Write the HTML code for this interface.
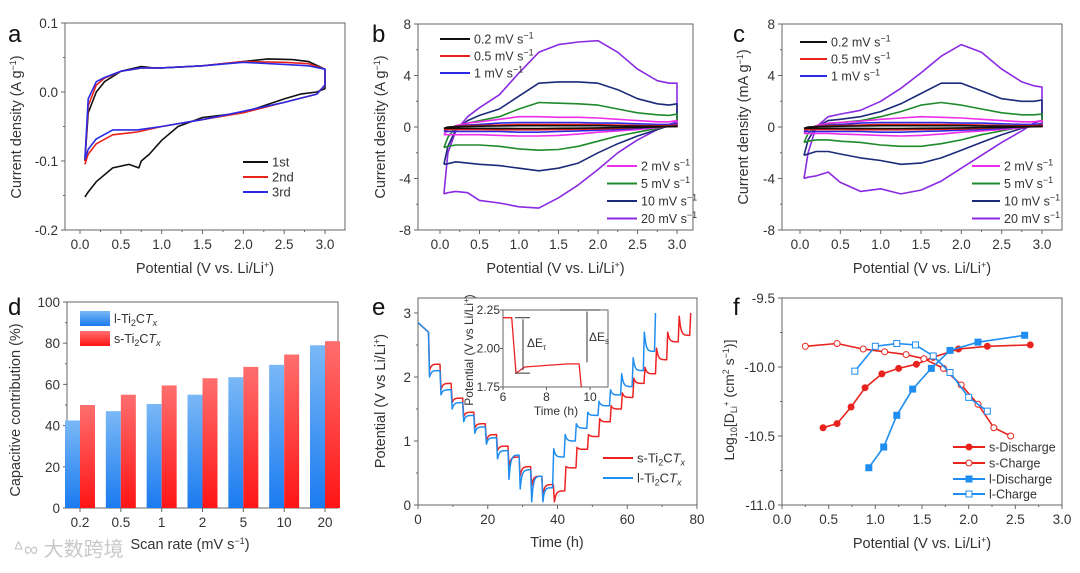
<!DOCTYPE html>
<html><head><meta charset="utf-8"><style>
html,body{margin:0;padding:0;background:#fff;}
svg{display:block;font-family:"Liberation Sans","Noto Sans CJK SC",sans-serif;}
</style></head><body>
<svg id="fig" width="1080" height="573" viewBox="0 0 1080 573" xmlns="http://www.w3.org/2000/svg">
<defs>
<linearGradient id="gBlue" x1="0" y1="0" x2="0" y2="1"><stop offset="0" stop-color="#7ab8f6"/><stop offset="1" stop-color="#1b7bf0"/></linearGradient>
<linearGradient id="gRed" x1="0" y1="0" x2="0" y2="1"><stop offset="0" stop-color="#ff6e6e"/><stop offset="1" stop-color="#ff1515"/></linearGradient>
</defs>
</svg>
<script>
// ---------- DATA ----------
// Panel a (A g^-1)
const aUpX1=[0.06,0.1,0.2,0.3,0.5,0.75,0.9,1.0,1.5,2.0,2.3,2.6,2.8,3.0];
const aUpY1=[-0.1,-0.03,0.0,0.015,0.03,0.037,0.035,0.035,0.038,0.044,0.048,0.047,0.044,0.033];
const aLoX1=[3.0,2.9,2.7,2.5,2.0,1.5,1.2,1.0,0.85,0.75,0.72,0.6,0.4,0.2,0.1,0.06];
const aLoY1=[0.005,0.0,-0.003,-0.01,-0.03,-0.037,-0.05,-0.07,-0.09,-0.1,-0.11,-0.105,-0.11,-0.13,-0.145,-0.152];
const aUpX2=[0.06,0.1,0.2,0.3,0.5,0.75,1.0,1.5,2.0,2.5,2.8,3.0];
const aUpY2=[-0.1,-0.02,0.01,0.02,0.03,0.035,0.035,0.038,0.044,0.043,0.041,0.033];
const aLoX2=[3.0,2.9,2.5,2.0,1.5,1.0,0.7,0.4,0.2,0.1,0.06];
const aLoY2=[0.01,-0.003,-0.015,-0.03,-0.04,-0.05,-0.058,-0.062,-0.075,-0.09,-0.105];
const aUpY3=[-0.098,-0.01,0.015,0.021,0.03,0.035,0.035,0.038,0.043,0.04,0.038,0.033];
const aLoY3=[0.01,-0.003,-0.015,-0.028,-0.04,-0.05,-0.055,-0.055,-0.068,-0.083,-0.098];

// Panels b, c shared potential grid
const cvX=[0.05,0.1,0.2,0.35,0.5,0.75,1.0,1.25,1.5,1.75,2.0,2.25,2.5,2.75,2.9,3.0];
const bUp20=[-5.2,-2,-0.3,0.8,1.5,2.5,4.2,5.8,6.4,6.6,6.7,5.8,4.5,3.6,3.4,3.4];
const bLo20=[-5.2,-5.1,-5.0,-5.1,-5.7,-5.9,-6.2,-6.3,-5.5,-4.5,-3.3,-2.0,-1.0,-0.2,0.2,0.4];
const bUp10=[-2.9,-1.5,-0.2,0.5,0.9,1.4,2.4,3.4,3.5,3.5,3.4,2.9,2.2,1.8,1.7,1.8];
const bLo10=[-2.9,-2.85,-2.7,-2.8,-2.9,-3.0,-3.2,-3.4,-3.2,-2.8,-2.0,-1.3,-0.7,-0.2,0.1,0.3];
const bUp5=[-1.6,-0.8,0,0.3,0.5,0.8,1.4,1.9,1.85,1.8,1.7,1.4,1.1,0.95,0.9,1.0];
const bLo5=[-1.6,-1.5,-1.4,-1.4,-1.4,-1.5,-1.7,-1.8,-1.75,-1.5,-1.1,-0.7,-0.4,-0.1,0.1,0.3];
const bUp2=[-0.6,-0.2,0.1,0.3,0.4,0.6,0.8,0.8,0.75,0.75,0.7,0.6,0.5,0.4,0.4,0.5];
const bLo2=[-0.6,-0.6,-0.6,-0.6,-0.6,-0.65,-0.7,-0.7,-0.65,-0.55,-0.4,-0.3,-0.2,-0.05,0.05,0.1];
const bUp1=[-0.35,-0.1,0.05,0.15,0.2,0.3,0.35,0.35,0.35,0.35,0.3,0.3,0.25,0.2,0.2,0.25];
const bLo1=[-0.35,-0.35,-0.35,-0.35,-0.35,-0.35,-0.4,-0.4,-0.35,-0.3,-0.25,-0.2,-0.1,0,0.05,0.1];
const bUp05=[-0.2,-0.05,0.05,0.1,0.12,0.15,0.2,0.2,0.2,0.2,0.18,0.15,0.12,0.1,0.1,0.15];
const bLo05=[-0.2,-0.2,-0.2,-0.2,-0.2,-0.22,-0.22,-0.22,-0.2,-0.18,-0.15,-0.1,-0.05,0,0.03,0.05];
const bUp02=[-0.1,0,0.03,0.05,0.06,0.08,0.1,0.1,0.1,0.1,0.1,0.08,0.06,0.05,0.05,0.08];
const bLo02=[-0.1,-0.1,-0.1,-0.1,-0.1,-0.11,-0.12,-0.12,-0.1,-0.09,-0.07,-0.05,-0.03,0,0.02,0.03];

const cUp20=[-4.0,-2,0,0.8,1.0,1.3,2.0,3.0,4.2,5.5,6.4,5.8,4.5,3.5,3.2,3.1];
const cLo20=[-4.0,-3.9,-3.8,-3.5,-4.3,-5.0,-4.8,-5.2,-4.9,-4.2,-3.2,-2.2,-1.2,-0.3,0.3,0.5];
const cUp10=[-2.2,-1,0,0.5,0.6,0.8,1.2,1.8,2.6,3.4,3.4,2.8,2.2,2.0,2.0,2.1];
const cLo10=[-2.2,-2.1,-1.9,-1.9,-2.1,-2.4,-2.6,-2.9,-2.8,-2.4,-1.8,-1.2,-0.6,-0.1,0.1,0.3];
const cUp5=[-1.2,-0.5,0,0.25,0.35,0.5,0.8,1.2,1.7,1.9,1.7,1.4,1.1,0.95,0.95,1.0];
const cLo5=[-1.2,-1.1,-1.0,-1.0,-1.1,-1.2,-1.4,-1.5,-1.5,-1.3,-1.0,-0.6,-0.3,0,0.15,0.3];
const cUp2=[-0.5,-0.2,0.1,0.3,0.35,0.45,0.6,0.7,0.8,0.75,0.7,0.6,0.5,0.4,0.4,0.5];
const cLo2=[-0.5,-0.5,-0.5,-0.5,-0.55,-0.6,-0.65,-0.7,-0.65,-0.55,-0.4,-0.3,-0.2,-0.05,0.05,0.1];

// Panel d
const dCats=["0.2","0.5","1","2","5","10","20"];
const dL=[42.5,47,50.5,55,63.5,69.5,79];
const dS=[50,55,59.5,63,68.5,74.5,81];

// Panel e (GITT): step start times, extreme (pulse end) and relaxed levels
const eStart=2.85, eT0=3.0, eL0=2.7;
const eDisT=[3.0,6.3,9.5,12.8,16.0,19.3,22.5,25.8,29.0,32.3,35.5];
const eSdisMin=[2.1,1.8,1.6,1.38,1.2,1.0,0.85,0.6,0.45,0.3,0.15];
const eSdisLvl=[2.2,1.9,1.67,1.45,1.27,1.1,0.92,0.75,0.6,0.45,0.32];
const eSchT=[38.8,42.1,45.3,48.6,51.8,55.1,58.3,61.6,64.8,68.1,71.3,74.6,77.9];
const eSchPk=[0.05,0.6,0.9,1.1,1.35,1.55,1.75,1.98,2.15,2.45,2.7,2.95,3.0];
const eSchLvl=[0.22,0.58,0.87,1.07,1.3,1.5,1.68,1.9,2.05,2.27,2.55,2.65,3.0];
const eLdisMin=[2.0,1.72,1.5,1.3,1.12,0.95,0.72,0.4,0.25,0.05,0.05];
const eLdisLvl=[2.1,1.8,1.6,1.4,1.22,1.05,0.85,0.78,0.55,0.45,0.27];
const eLchT=[38.6,41.9,45.1,48.4,51.6,54.9,58.1,61.4,64.6,67.8];
const eLchPk=[0.88,1.1,1.27,1.45,1.62,1.8,2.05,2.3,2.7,3.0];
const eLchLvl=[0.75,1.0,1.2,1.4,1.55,1.72,1.85,2.1,2.4,3.0];
// inset
const insX=[6.0,6.4,6.6,7.0,8.0,9.0,9.5,9.6];
const insY=[2.2,2.2,1.84,1.88,1.89,1.9,1.9,1.75];

// Panel f
const fSdX=[0.44,0.59,0.74,0.89,1.07,1.25,1.44,1.62,1.89,2.2,2.66];
const fSdY=[-10.44,-10.41,-10.29,-10.15,-10.05,-10.01,-9.98,-9.93,-9.87,-9.85,-9.84];
const fScX=[0.25,0.59,0.87,1.1,1.33,1.52,1.73,1.92,2.1,2.27,2.45];
const fScY=[-9.85,-9.83,-9.87,-9.89,-9.91,-9.94,-10.01,-10.13,-10.27,-10.44,-10.5];
const fLdX=[0.93,1.09,1.23,1.4,1.6,1.8,2.1,2.6];
const fLdY=[-10.73,-10.58,-10.35,-10.16,-10.01,-9.88,-9.82,-9.77];
const fLcX=[0.78,1.0,1.23,1.43,1.62,1.8,2.0,2.2];
const fLcY=[-10.03,-9.85,-9.83,-9.84,-9.92,-10.04,-10.22,-10.32];

// ---------- HELPERS ----------
const NS="http://www.w3.org/2000/svg";
const svg=document.getElementById('fig');
function mk(tag,attrs,name,parent){
  const el=document.createElementNS(NS,tag);
  for(const k in attrs) el.setAttribute(k,attrs[k]);
  
  
  (parent||svg).appendChild(el);
  return el;
}
function txt(x,y,html,name,opt){
  opt=opt||{};
  const t=mk('text',{x:x,y:y,'font-size':opt.fs||13,'text-anchor':opt.anchor||'middle',fill:opt.fill||'#333'},name);
  if(opt.rot) t.setAttribute('transform','rotate(-90 '+x+' '+y+')');
  if(opt.weight) t.setAttribute('font-weight',opt.weight);
  t.innerHTML=html;
  return t;
}
function scale(d0,d1,p0,p1){return v=>p0+(v-d0)*(p1-p0)/(d1-d0);}
function axes(cfg){
  const g=mk('g',{},cfg.name);
  mk('rect',{x:cfg.L,y:cfg.T,width:cfg.R-cfg.L,height:cfg.B-cfg.T,fill:'none',stroke:'#666','stroke-width':1},cfg.name+'-frame',g);
  cfg.xt.forEach((v,i)=>{
    const px=cfg.x(v);
    mk('line',{x1:px,y1:cfg.B,x2:px,y2:cfg.B+4,stroke:'#666'},'x-tick',g);
    txt(px,cfg.B+19,cfg.xl[i],'x-tick-label',{fs:13.5});
  });
  (cfg.xm||[]).forEach(v=>{const px=cfg.x(v);mk('line',{x1:px,y1:cfg.B,x2:px,y2:cfg.B+2,stroke:'#666'},'x-minor-tick',g);});
  cfg.yt.forEach((v,i)=>{
    const py=cfg.y(v);
    mk('line',{x1:cfg.L-4,y1:py,x2:cfg.L,y2:py,stroke:'#666'},'y-tick',g);
    txt(cfg.L-7,py+5,cfg.yl[i],'y-tick-label',{fs:13.5,anchor:'end'});
  });
  (cfg.ym||[]).forEach(v=>{const py=cfg.y(v);mk('line',{x1:cfg.L-2,y1:py,x2:cfg.L,y2:py,stroke:'#666'},'y-minor-tick',g);});
}
function poly(xs,ys,X,Y,color,name,w){
  const pts=xs.map((v,i)=>X(v).toFixed(1)+','+Y(ys[i]).toFixed(1)).join(' ');
  return mk('polyline',{points:pts,fill:'none',stroke:color,'stroke-width':w||1.6,'stroke-linejoin':'round'},name);
}
function loop(up,lo,X,Y,color,name,w){
  const xs=cvX.concat(cvX.slice().reverse());
  const ys=up.concat(lo.slice().reverse());
  return poly(xs.concat([cvX[0]]),ys.concat([up[0]]),X,Y,color,name,w);
}
function legLine(x1,x2,y,color,label,name,fs){
  mk('line',{x1:x1,y1:y,x2:x2,y2:y,stroke:color,'stroke-width':2},name+'-swatch');
  txt(x2+4,y+4.5,label,name,{anchor:'start',fs:fs||12.5});
}
const SUP1='<tspan dy="-5" font-size="9">−1</tspan>';
const LI='Potential (V vs. Li/Li<tspan dy="-5" font-size="9">+</tspan><tspan dy="5">)</tspan>';

// ---------- PANEL A ----------
(function(){
  const X=scale(0,3,80,325), Y=scale(-0.2,0.1,230,23);
  axes({name:'panel-a-axes',L:65,R:345,T:23,B:230,x:X,y:Y,xt:[0,0.5,1,1.5,2,2.5,3],xl:['0.0','0.5','1.0','1.5','2.0','2.5','3.0'],xm:[0.25,0.75,1.25,1.75,2.25,2.75],yt:[0.1,0,-0.1,-0.2],yl:['0.1','0.0','-0.1','-0.2'],ym:[0.05,-0.05,-0.15]});
  poly(aUpX1.concat(aLoX1),aUpY1.concat(aLoY1),X,Y,'#111','cv-1st');
  poly(aUpX2.concat(aLoX2),aUpY2.concat(aLoY2),X,Y,'#e8231d','cv-2nd');
  poly(aUpX2.concat(aLoX2),aUpY3.concat(aLoY3),X,Y,'#2a2ae6','cv-3rd');
  txt(8,42,'a','panel-label-a',{fs:24,anchor:'start',fill:'#111'});
  txt(21,127,'Current density (A g'+SUP1+'<tspan dy="5">)</tspan>','y-axis-title-a',{rot:true,fs:14.5});
  txt(205,273,LI,'x-axis-title-a',{fs:14.5});
  legLine(243,268,162,'#111','1st','legend-1st',13);
  legLine(243,268,177,'#e8231d','2nd','legend-2nd',13);
  legLine(243,268,192,'#2a2ae6','3rd','legend-3rd',13);
})();

// ---------- PANELS B, C ----------
const rateColors=['#111','#e8231d','#2a2ae6','#ee2ee8','#1f8a2b','#1c2a7a','#8a2be2'];
function cvPanel(id,L,R,X0,X3,sets,unit,letterX,titleX,leg){
  const X=scale(0,3,X0,X3), Y=scale(-8,8,230,24);
  axes({name:'panel-'+id+'-axes',L:L,R:R,T:24,B:230,x:X,y:Y,xt:[0,0.5,1,1.5,2,2.5,3],xl:['0.0','0.5','1.0','1.5','2.0','2.5','3.0'],xm:[0.25,0.75,1.25,1.75,2.25,2.75],yt:[8,4,0,-4,-8],yl:['8','4','0','-4','-8'],ym:[6,2,-2,-6]});
  const order=[6,5,4,3,2,1,0];
  order.forEach(i=>{ if(sets[i]) loop(sets[i][0],sets[i][1],X,Y,rateColors[i],'cv-'+id+'-rate-'+i,1.6); });
  txt(letterX,42,id,'panel-label-'+id,{fs:24,anchor:'start',fill:'#111'});
  txt(titleX,127,'Current density ('+unit+' g'+SUP1+'<tspan dy="5">)</tspan>','y-axis-title-'+id,{rot:true,fs:14.5});
  txt((L+R)/2,273,LI,'x-axis-title-'+id,{fs:14.5});
  const labs=['0.2','0.5','1','2','5','10','20'];
  [0,1,2].forEach(i=>legLine(leg[0],leg[1],leg[2]+i*17,rateColors[i],labs[i]+' mV s'+SUP1,'legend-'+id+'-'+labs[i]));
  [3,4,5,6].forEach((i,k)=>legLine(leg[3],leg[4],leg[5]+k*17.5,rateColors[i],labs[i]+' mV s'+SUP1,'legend-'+id+'-'+labs[i]));
}
cvPanel('b',418,693,440,677,[[bUp02,bLo02],[bUp05,bLo05],[bUp1,bLo1],[bUp2,bLo2],[bUp5,bLo5],[bUp10,bLo10],[bUp20,bLo20]],'A',372,385,[440,470,39,607,637,166]);
cvPanel('c',782,1062,800,1042,[[bUp02,bLo02],[bUp05,bLo05],[bUp1,bLo1],[cUp2,cLo2],[cUp5,cLo5],[cUp10,cLo10],[cUp20,cLo20]],'mA',733,748,[800,827,42,972,1000,166]);

// ---------- PANEL D ----------
(function(){
  const X=scale(0,6,80,325), Y=scale(0,100,508,302);
  axes({name:'panel-d-axes',L:67,R:338,T:302,B:508,x:X,y:Y,xt:[0,1,2,3,4,5,6],xl:dCats,yt:[100,80,60,40,20,0],yl:['100','80','60','40','20','0'],ym:[90,70,50,30,10]});
  dCats.forEach((c,i)=>{
    const cx=X(i);
    mk('rect',{x:cx-15,y:Y(dL[i]),width:15,height:Y(0)-Y(dL[i]),fill:'url(#gBlue)'},'bar-l-'+c);
    mk('rect',{x:cx,y:Y(dS[i]),width:15,height:Y(0)-Y(dS[i]),fill:'url(#gRed)'},'bar-s-'+c);
  });
  mk('rect',{x:80,y:311,width:30,height:15,fill:'url(#gBlue)'},'legend-l-swatch');
  mk('rect',{x:80,y:331,width:30,height:15,fill:'url(#gRed)'},'legend-s-swatch');
  txt(114,323,'l-Ti<tspan dy="3" font-size="9">2</tspan><tspan dy="-3">C</tspan><tspan font-style="italic">T</tspan><tspan dy="3" font-size="9" font-style="italic">x</tspan>','legend-l',{anchor:'start',fs:12.5});
  txt(114,343,'s-Ti<tspan dy="3" font-size="9">2</tspan><tspan dy="-3">C</tspan><tspan font-style="italic">T</tspan><tspan dy="3" font-size="9" font-style="italic">x</tspan>','legend-s',{anchor:'start',fs:12.5});
  txt(8,315,'d','panel-label-d',{fs:24,anchor:'start',fill:'#111'});
  txt(20,410,'Capacitive contribution (%)','y-axis-title-d',{rot:true,fs:14.5});
  txt(190,549,'Scan rate (mV s'+SUP1+'<tspan dy="5">)</tspan>','x-axis-title-d',{fs:14.5});
  txt(13,556,'ᐞ∞ 大数跨境','watermark',{anchor:'start',fs:20,fill:'#c8c8c8'});
})();

// ---------- PANEL E ----------
function gitt(startV,t0,L0,dT,mins,lvls,chT,pks,chL){
  const xs=[0,t0], ys=[startV,L0];
  const allT=dT.concat(chT);
  const allE=mins.concat(pks), allL=lvls.concat(chL);
  for(let i=0;i<allT.length;i++){
    const ts=allT[i], te=(i+1<allT.length)?allT[i+1]:ts+0.3;
    xs.push(ts+0.3); ys.push(allE[i]);
    const L=allL[i], E=allE[i];
    for(let k=1;k<=10;k++){
      const tt=ts+0.3+(te-ts-0.3)*k/10;
      xs.push(tt); ys.push(L+(E-L)*Math.exp(-k/1.5));
    }
  }
  return [xs,ys];
}
(function(){
  const X=scale(0,80,418,697), Y=scale(0,3,505,313);
  axes({name:'panel-e-axes',L:418,R:697,T:298,B:505,x:X,y:Y,xt:[0,20,40,60,80],xl:['0','20','40','60','80'],xm:[10,30,50,70],yt:[0,1,2,3],yl:['0','1','2','3'],ym:[0.5,1.5,2.5]});
  const s=gitt(eStart,eT0,eL0,eDisT,eSdisMin,eSdisLvl,eSchT,eSchPk,eSchLvl);
  const l=gitt(eStart,eT0,eL0,eDisT,eLdisMin,eLdisLvl,eLchT,eLchPk,eLchLvl);
  poly(s[0],s[1],X,Y,'#ee2222','gitt-s',1.5);
  poly(l[0],l[1],X,Y,'#1f8ef0','gitt-l',1.5);
  legLine(603,633,458,'#ee2222','s-Ti<tspan dy="3" font-size="9">2</tspan><tspan dy="-3">C</tspan><tspan font-style="italic">T</tspan><tspan dy="3" font-size="9" font-style="italic">x</tspan>','legend-s-e',13);
  legLine(603,633,478,'#1f8ef0','l-Ti<tspan dy="3" font-size="9">2</tspan><tspan dy="-3">C</tspan><tspan font-style="italic">T</tspan><tspan dy="3" font-size="9" font-style="italic">x</tspan>','legend-l-e',13);
  // inset
  const IX=scale(6,10,503,590), IY=scale(1.75,2.25,387,310);
  mk('rect',{x:503,y:310,width:105,height:77,fill:'#fff',stroke:'#666'},'inset-frame');
  poly(insX,insY,IX,IY,'#ee2222','inset-gitt',1.3);
  [6,8,10].forEach(v=>{mk('line',{x1:IX(v),y1:387,x2:IX(v),y2:390,stroke:'#666'},'inset-x-tick');txt(IX(v),401,String(v),'inset-x-tick-label',{fs:12});});
  [[2.25,'2.25'],[2.0,'2.00'],[1.75,'1.75']].forEach(p=>{mk('line',{x1:500,y1:IY(p[0]),x2:503,y2:IY(p[0]),stroke:'#666'},'inset-y-tick');txt(500,IY(p[0])+4,p[1],'inset-y-tick-label',{fs:12,anchor:'end'});});
  txt(556,415,'Time (h)','inset-x-title',{fs:12});
  txt(473,350,'Potential (V vs Li/Li<tspan dy="-4" font-size="8">+</tspan><tspan dy="4">)</tspan>','inset-y-title',{rot:true,fs:12});
  mk('line',{x1:515,y1:IY(2.2),x2:530,y2:IY(2.2),stroke:'#333'},'inset-ref-top');
  mk('line',{x1:515,y1:IY(1.84),x2:530,y2:IY(1.84),stroke:'#333'},'inset-ref-bottom');
  mk('line',{x1:523,y1:IY(2.19),x2:523,y2:IY(1.86),stroke:'#333'},'delta-et-arrow');
  mk('line',{x1:560,y1:IY(2.25),x2:600,y2:IY(2.25),stroke:'#333'},'inset-es-top');
  mk('line',{x1:587,y1:IY(2.24),x2:587,y2:IY(1.91),stroke:'#333'},'delta-es-arrow');
  txt(527,347,'ΔE<tspan dy="3" font-size="8">τ</tspan>','delta-et-label',{anchor:'start',fs:12});
  txt(589,341,'ΔE<tspan dy="3" font-size="8">s</tspan>','delta-es-label',{anchor:'start',fs:12});
  txt(372,315,'e','panel-label-e',{fs:24,anchor:'start',fill:'#111'});
  txt(385,401,'Potential (V vs Li/Li<tspan dy="-5" font-size="9">+</tspan><tspan dy="5">)</tspan>','y-axis-title-e',{rot:true,fs:14.5});
  txt(557,547,'Time (h)','x-axis-title-e',{fs:14.5});
})();

// ---------- PANEL F ----------
(function(){
  const X=scale(0,3,782,1062), Y=scale(-11,-9.5,505,298);
  axes({name:'panel-f-axes',L:782,R:1062,T:298,B:505,x:X,y:Y,xt:[0,0.5,1,1.5,2,2.5,3],xl:['0.0','0.5','1.0','1.5','2.0','2.5','3.0'],xm:[0.25,0.75,1.25,1.75,2.25,2.75],yt:[-9.5,-10,-10.5,-11],yl:['-9.5','-10.0','-10.5','-11.0'],ym:[-9.75,-10.25,-10.75]});
  const series=[[fSdX,fSdY,'#e8231d','c',true,'s-discharge'],[fScX,fScY,'#e8231d','c',false,'s-charge'],[fLdX,fLdY,'#1f8ef0','s',true,'l-discharge'],[fLcX,fLcY,'#1f8ef0','s',false,'l-charge']];
  series.forEach(sr=>{
    poly(sr[0],sr[1],X,Y,sr[2],'line-'+sr[5],1.6);
    sr[0].forEach((v,i)=>{
      const px=X(v), py=Y(sr[1][i]);
      if(sr[3]==='c') mk('circle',{cx:px,cy:py,r:3,fill:sr[4]?sr[2]:'#fff',stroke:sr[2],'stroke-width':1},'point-'+sr[5]);
      else mk('rect',{x:px-3,y:py-3,width:6,height:6,fill:sr[4]?sr[2]:'#fff',stroke:sr[2],'stroke-width':1},'point-'+sr[5]);
    });
  });
  const ly=[447,463,479,494], lbl=['s-Discharge','s-Charge','l-Discharge','l-Charge'];
  series.forEach((sr,k)=>{
    legLine(953,985,ly[k],sr[2],lbl[k],'legend-'+sr[5],12.5);
    if(sr[3]==='c') mk('circle',{cx:969,cy:ly[k],r:3,fill:sr[4]?sr[2]:'#fff',stroke:sr[2]},'legend-marker-'+sr[5]);
    else mk('rect',{x:966,y:ly[k]-3,width:6,height:6,fill:sr[4]?sr[2]:'#fff',stroke:sr[2]},'legend-marker-'+sr[5]);
  });
  txt(733,315,'f','panel-label-f',{fs:24,anchor:'start',fill:'#111'});
  txt(734,400,'Log<tspan dy="3" font-size="9">10</tspan><tspan dy="-3">[D</tspan><tspan dy="3" font-size="9">Li</tspan><tspan dy="-8" font-size="8">+</tspan><tspan dy="5"> (cm</tspan><tspan dy="-5" font-size="9">2</tspan><tspan dy="5"> s</tspan><tspan dy="-5" font-size="9">−1</tspan><tspan dy="5">)]</tspan>','y-axis-title-f',{rot:true,fs:14});
  txt(922,548,LI,'x-axis-title-f',{fs:14.5});
})();
</script>
</body></html>
